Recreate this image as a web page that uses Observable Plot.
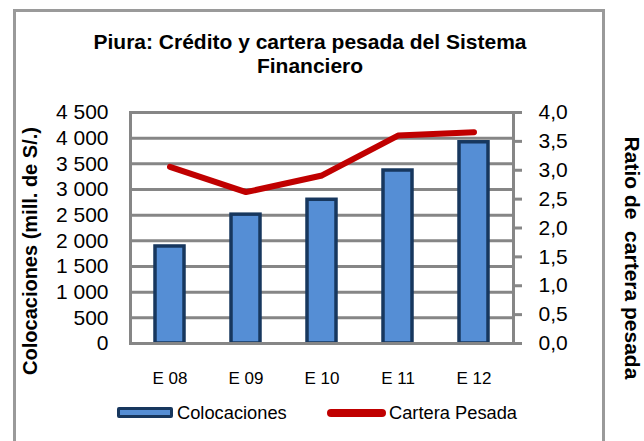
<!DOCTYPE html>
<html>
<head>
<meta charset="utf-8">
<script src="https://cdn.jsdelivr.net/npm/d3@7"></script>
<script src="https://cdn.jsdelivr.net/npm/@observablehq/plot@0.6"></script>
<style>
  html, body { margin: 0; padding: 0; background: #fff; }
  #wrap { position: relative; width: 644px; height: 441px; overflow: hidden; background: #fff;
          font-family: "Liberation Sans", Arial, sans-serif; color: #000; }
  #border { position: absolute; left: 13px; top: 9px; width: 592px; height: 470px;
            border: 3px solid #9a9a9a; box-sizing: border-box; }
  #title { position: absolute; left: 14px; width: 592px; top: 30px; text-align: center;
           font-weight: bold; font-size: 21px; line-height: 24px; letter-spacing: 0; }
  .ylab { position: absolute; font-weight: bold; white-space: pre; }
  #ylabL { left: 30px; top: 251px; font-size: 20px; transform: translate(-50%, -50%) rotate(-90deg); }
  #ylabR { left: 632px; top: 258px; font-size: 21px; transform: translate(-50%, -50%) rotate(90deg); }
  #chart { position: absolute; left: 0; top: 0; }
  #legend { position: absolute; top: 401px; left: 0; width: 644px; height: 24px; font-size: 18.3px; }
  .lg { position: absolute; top: 0; height: 24px; line-height: 24px; white-space: nowrap; }
  .sw-bar { position: absolute; box-sizing: border-box; background: #558ED5; border: 3px solid #17375E; border-radius: 2px; }
  .sw-line { position: absolute; background: #C00000; border-radius: 4px; }
</style>
</head>
<body>
<div id="wrap">
  <div id="border"></div>
  <div id="chart"></div>
  <div id="title">Piura: Crédito y cartera pesada del Sistema<br>Financiero</div>
  <div class="ylab" id="ylabL">Colocaciones (mill. de S/.)</div>
  <div class="ylab" id="ylabR">Ratio de  cartera pesada</div>
  <div id="legend"></div>
</div>
<script>
// ---- data ----
const categories = ["E 08", "E 09", "E 10", "E 11", "E 12"];
const colocaciones = [1890, 2510, 2800, 3370, 3920];      // mill. de S/.
const carteraPesada = [3.06, 2.62, 2.91, 3.60, 3.66];      // ratio (%)
const leftTicks = [0, 500, 1000, 1500, 2000, 2500, 3000, 3500, 4000, 4500];
const rightTicks = [0, 0.5, 1.0, 1.5, 2.0, 2.5, 3.0, 3.5, 4.0];
const seriesNames = ["Colocaciones", "Cartera Pesada"];

// right axis (0–4) mapped onto left axis (0–4500)
const leftMax = 4500, rightMax = 4;
const toLeft = v => v * leftMax / rightMax;

const data = categories.map((c, i) => ({cat: c, col: colocaciones[i], cp: carteraPesada[i]}));

const fmtLeft = d => d >= 1000 ? `${Math.floor(d / 1000)} ${String(d % 1000).padStart(3, "0")}` : String(d);
const fmtRight = d => (d * rightMax / leftMax).toFixed(1).replace(".", ",");

const grid = "#868686";

const chart = Plot.plot({
  width: 644,
  height: 441,
  marginLeft: 130,
  marginRight: 131,
  marginTop: 112,
  marginBottom: 98,
  style: {fontFamily: "'Liberation Sans', Arial, sans-serif", fontSize: "21px", color: "#000", background: "transparent", overflow: "visible"},
  x: {domain: categories, paddingInner: 0.62, paddingOuter: 0.31, label: null, axis: null},
  y: {domain: [0, leftMax], label: null, axis: null},
  marks: [
    Plot.gridY(leftTicks, {stroke: grid, strokeWidth: 3, strokeOpacity: 1}),
    Plot.barY(data, {x: "cat", y: "col", fill: "#558ED5", stroke: "#17375E", strokeWidth: 3.5}),
    Plot.frame({stroke: grid, strokeWidth: 3}),
    Plot.axisY(leftTicks, {anchor: "left", tickSize: 0, tickPadding: 22, tickFormat: fmtLeft, fill: "#000", fontSize: 21, label: null}),
    Plot.axisY(rightTicks.map(toLeft), {anchor: "right", tickSize: 8, tickPadding: 17, stroke: grid, strokeWidth: 3, fill: "#000", tickFormat: fmtRight, fontSize: 21, label: null}),
    Plot.text(categories, {x: d => d, frameAnchor: "bottom", dy: 35, fill: "#000", fontSize: 17, lineAnchor: "middle"}),
    Plot.lineY(data, {x: "cat", y: d => toLeft(d.cp), stroke: "#C00000", strokeWidth: 6, strokeLinecap: "round", strokeLinejoin: "miter"})
  ]
});
document.getElementById("chart").appendChild(chart);

// legend
const legend = document.getElementById("legend");
legend.innerHTML = `
  <div class="sw-bar" style="left:117px; top:6px; width:56px; height:11px;"></div>
  <div class="lg" style="left:177px;">${seriesNames[0]}</div>
  <div class="sw-line" style="left:327px; top:8px; width:59px; height:8px;"></div>
  <div class="lg" style="left:389px;">${seriesNames[1]}</div>
`;
</script>
</body>
</html>
